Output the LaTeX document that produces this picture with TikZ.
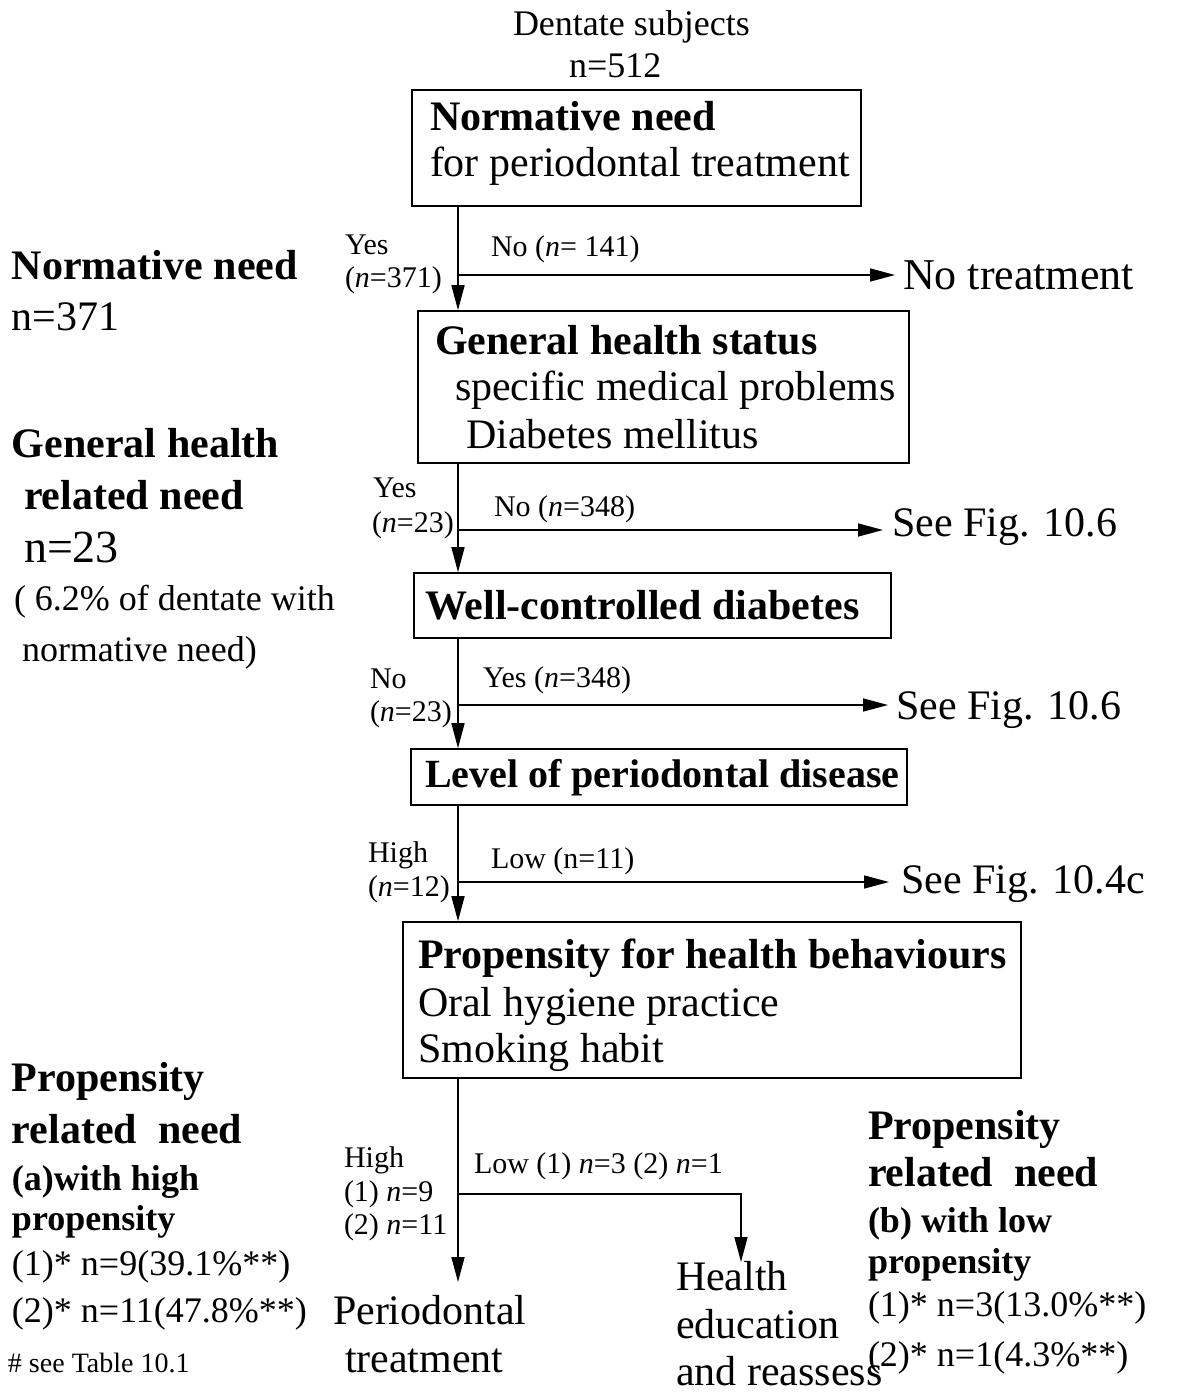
\documentclass[tikz,border=0pt]{standalone}
\usepackage{fontspec}
\setmainfont{Liberation Serif}
\usetikzlibrary{arrows.meta}

\begin{document}
\begin{tikzpicture}[x=1pt,y=-1pt,
  box/.style={draw, line width=1.6pt, inner sep=0pt},
  txt/.style={anchor=base west, inner sep=0pt, outer sep=0pt},
  big/.style={font=\fontsize{42}{48}\selectfont},
  bigb/.style={font=\fontsize{42}{48}\selectfont\bfseries},
  mid/.style={font=\fontsize{36}{42}\selectfont},
  midb/.style={font=\fontsize{36}{42}\selectfont\bfseries},
  lab/.style={font=\fontsize{30}{34}\selectfont},
  note/.style={font=\fontsize{28}{32}\selectfont},
  arr/.style={line width=1.6pt, -{Triangle[length=25pt,width=13pt]}},
  link/.style={line width=1.6pt}]

\useasboundingbox (0,0) rectangle (1188,1392);

% trunk of the flow chart and branch points
\coordinate (trunk) at (458,0);
\coordinate (j1) at (458,275);
\coordinate (j2) at (458,530);
\coordinate (j3) at (458,705);
\coordinate (j4) at (458,882);
\coordinate (j5) at (458,1194);
\coordinate (hx) at (741,1262);
\coordinate (px) at (458,1282);

% heading
\node[txt, mid] (dent) at (513,35) {Dentate subjects};
\node[txt, mid] (n512) at (569,77) {n=512};

% boxes
\node[box, minimum width=449pt, minimum height=116pt] (b1) at (636.5,148) {};
\node[box, minimum width=491pt, minimum height=152pt] (b2) at (663.5,387) {};
\node[box, minimum width=477pt, minimum height=65pt]  (b3) at (652.5,605.5) {};
\node[box, minimum width=496pt, minimum height=56pt]  (b4) at (659,777) {};
\node[box, minimum width=618pt, minimum height=156pt] (b5) at (712,1000) {};

% box texts
\node[txt, bigb] (b1a) at (430,130) {Normative need};
\node[txt, big]  (b1b) at (430,176) {for periodontal treatment};
\node[txt, bigb] (b2a) at (435,354) {General health status};
\node[txt, big]  (b2b) at (455,400) {specific medical problems};
\node[txt, big]  (b2c) at (466,448) {Diabetes mellitus};
\node[txt, bigb] (b3a) at (425,619) {Well-controlled diabetes};
\node[txt, font=\fontsize{40}{46}\selectfont\bfseries] (b4a) at (425,787) {Level of periodontal disease};
\node[txt, bigb] (b5a) at (418,968) {Propensity for health behaviours};
\node[txt, big]  (b5b) at (418,1016) {Oral hygiene practice};
\node[txt, big]  (b5c) at (418,1062) {Smoking habit};

% outcomes
\node[txt, font=\fontsize{44}{50}\selectfont] (nt) at (903,289) {No treatment};
\node[txt, big] (f1) at (892,536) {See Fig. 10.6};
\node[txt, big] (f2) at (896,719) {See Fig. 10.6};
\node[txt, big] (f3) at (901,893) {See Fig. 10.4c};
\node[txt, big] (pt1) at (333,1324) {Periodontal};
\node[txt, big] (pt2) at (345,1372) {treatment};
\node[txt, big] (he1) at (676,1290) {Health};
\node[txt, big] (he2) at (676,1338) {education};
\node[txt, big] (he3) at (676,1385) {and reassess};

% connectors
\draw[arr] (b1.south -| trunk) -- (b2.north -| trunk);
\draw[arr] (b2.south -| trunk) -- (b3.north -| trunk);
\draw[arr] (b3.south -| trunk) -- (b4.north -| trunk);
\draw[arr] (b4.south -| trunk) -- (b5.north -| trunk);
\draw[arr] (b5.south -| trunk) -- (px);
\draw[arr, shorten >=8pt] (j1) -- (j1 -| nt.west);
\draw[arr, shorten >=9pt] (j2) -- (j2 -| f1.west);
\draw[arr, shorten >=8pt] (j3) -- (j3 -| f2.west);
\draw[arr, shorten >=12pt] (j4) -- (j4 -| f3.west);
\draw[arr] (j5) -| (hx);

% branch labels
\node[txt, lab] (y1a) at (345,254) {Yes};
\node[txt, lab] (y1b) at (345,287) {(\textit{n}=371)};
\node[txt, lab] (n1)  at (491,256) {No (\textit{n}= 141)};
\node[txt, lab] (y2a) at (373,497) {Yes};
\node[txt, lab] (y2b) at (372,532) {(\textit{n}=23)};
\node[txt, lab] (n2)  at (494,516) {No (\textit{n}=348)};
\node[txt, lab] (n3a) at (370,688) {No};
\node[txt, lab] (n3b) at (370,721) {(\textit{n}=23)};
\node[txt, lab] (y3)  at (483,687) {Yes (\textit{n}=348)};
\node[txt, lab] (h4a) at (368,862) {High};
\node[txt, lab] (h4b) at (368,896) {(\textit{n}=12)};
\node[txt, lab] (l4)  at (491,868) {Low (n=11)};
\node[txt, lab] (h5a) at (344,1167) {High};
\node[txt, lab] (h5b) at (344,1201) {(1) \textit{n}=9};
\node[txt, lab] (h5c) at (344,1234) {(2) \textit{n}=11};
\node[txt, lab] (l5)  at (474,1173) {Low (1) \textit{n}=3 (2) \textit{n}=1};

% left column
\node[txt, bigb] (ln1) at (12,279) {Normative need};
\node[txt, big]  (ln2) at (12,330) {n=371};
\node[txt, bigb] (lg1) at (12,457) {General health};
\node[txt, bigb] (lg2) at (24,509) {related need};
\node[txt, font=\fontsize{46}{52}\selectfont] (lg3) at (24,562) {n=23};
\node[txt, mid]  (lg4) at (14,610) {( 6.2\% of dentate with};
\node[txt, mid]  (lg5) at (22,661) {normative need)};
\node[txt, bigb] (lp1) at (12,1091) {Propensity};
\node[txt, bigb] (lp2) at (12,1143) {related\ \ need};
\node[txt, midb] (lp3) at (12,1190) {(a)with high};
\node[txt, midb] (lp4) at (12,1230) {propensity};
\node[txt, mid]  (lp5) at (12,1275) {(1)* n=9(39.1\%**)};
\node[txt, mid]  (lp6) at (12,1322) {(2)* n=11(47.8\%**)};
\node[txt, note] (tab) at (8,1372) {\# see Table 10.1};

% right column
\node[txt, bigb] (rp1) at (868,1139) {Propensity};
\node[txt, bigb] (rp2) at (868,1186) {related\ \ need};
\node[txt, midb] (rp3) at (868,1232) {(b) with low};
\node[txt, midb] (rp4) at (868,1273) {propensity};
\node[txt, mid]  (rp5) at (868,1316) {(1)* n=3(13.0\%**)};
\node[txt, mid]  (rp6) at (868,1366) {(2)* n=1(4.3\%**)};

\end{tikzpicture}
\end{document}
